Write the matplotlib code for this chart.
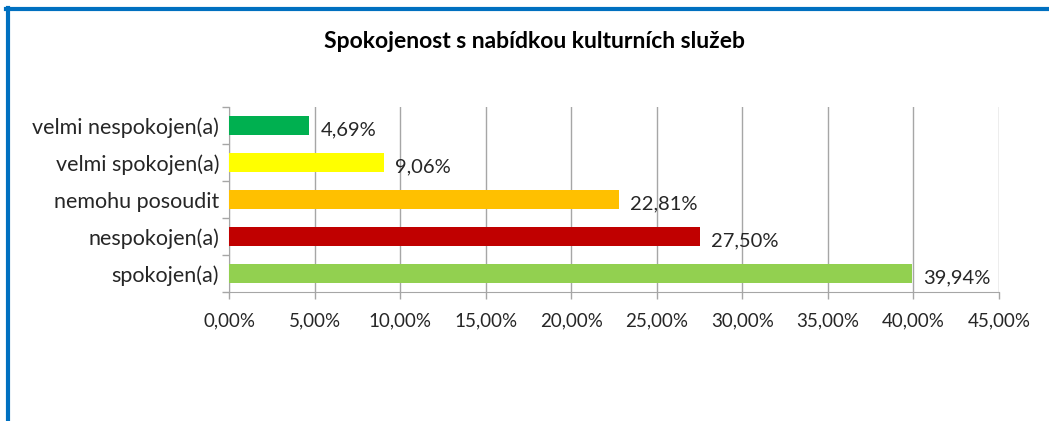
import matplotlib
matplotlib.use("Agg")
import matplotlib.pyplot as plt
from matplotlib.lines import Line2D
from matplotlib.ticker import FuncFormatter

# data (bottom to top)
categories = ["spokojen(a)", "nespokojen(a)", "nemohu posoudit", "velmi spokojen(a)", "velmi nespokojen(a)"]
values = [39.94, 27.50, 22.81, 9.06, 4.69]
colors = ["#92D050", "#C00000", "#FFC000", "#FFFF00", "#00B050"]
title = "Spokojenost s nabídkou kulturních služeb"

plt.rcParams["font.family"] = ["Lato", "DejaVu Sans"]

fig = plt.figure(figsize=(10.49, 4.21), dpi=100)
ax = fig.add_axes([229 / 1049, 129 / 421, 770 / 1049, 185 / 421])

pos = range(len(categories))
ax.barh(pos, values, height=0.5, color=colors, zorder=3)
for p, v in zip(pos, values):
    ax.annotate(f"{v:.2f}%".replace(".", ","), (v, p), xytext=(8, -3),
                textcoords="offset points", va="center", ha="left",
                fontsize=14.5, color="#262626")

ax.set_xlim(0, 45)
ax.set_ylim(-0.5, len(categories) - 0.5)
ax.set_xticks(range(0, 46, 5))
ax.xaxis.set_major_formatter(FuncFormatter(lambda x, _: f"{x:.2f}%".replace(".", ",")))
ax.set_yticks(list(pos))
ax.set_yticklabels(categories)
ax.set_yticks([p - 0.5 for p in range(len(categories) + 1)], minor=True)
ax.tick_params(axis="y", which="major", length=0, pad=7, labelsize=15.5, labelcolor="#262626")
ax.tick_params(axis="y", which="minor", length=5, color="#A6A6A6", width=1)
ax.tick_params(axis="x", length=5, color="#A6A6A6", width=1, pad=10, labelsize=13.5, labelcolor="#262626")
ax.grid(axis="x", color="#A6A6A6", linewidth=1, zorder=0)

for s in ["top", "right"]:
    ax.spines[s].set_visible(False)
for s in ["left", "bottom"]:
    ax.spines[s].set_color("#A6A6A6")

fig.text(535 / 1049, 1 - 42 / 421, title, ha="center", va="center",
         fontsize=16.5, fontweight="bold", color="black")

# blue frame on top and left
fig.add_artist(Line2D([6 / 1049, 1], [1 - 9 / 421] * 2, color="#0070C0", linewidth=3, transform=fig.transFigure))
fig.add_artist(Line2D([8 / 1049] * 2, [0, 1 - 8 / 421], color="#0070C0", linewidth=3, transform=fig.transFigure))

fig.savefig("out.png", dpi=100)
